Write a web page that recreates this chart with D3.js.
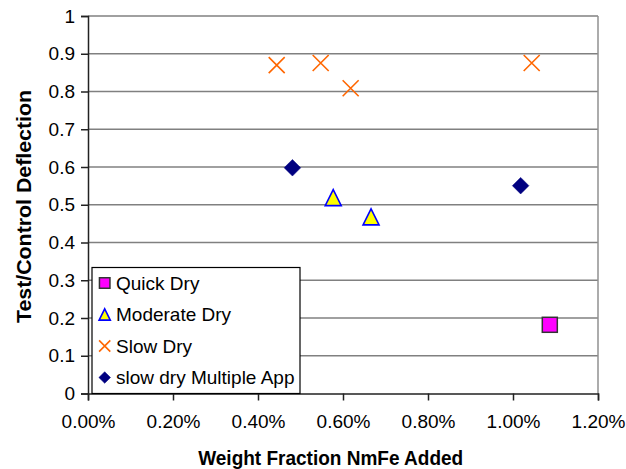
<!DOCTYPE html>
<html><head><meta charset="utf-8">
<script src="https://cdn.jsdelivr.net/npm/d3@7"></script>
<style>body{margin:0;background:#fff}svg{display:block}text{font-family:"Liberation Sans",Arial,sans-serif}</style>
</head><body><svg id="c" width="626" height="469"></svg>
<script>
const quickDryX = [0.010866];
const quickDryY = [0.182];
const moderateDryX = [0.00577, 0.00666];
const moderateDryY = [0.519, 0.468];
const slowDryX = [0.00444, 0.005475, 0.00618, 0.01044];
const slowDryY = [0.870, 0.8755, 0.8085, 0.8755];
const multiAppX = [0.00481, 0.01018];
const multiAppY = [0.598, 0.5505];
const xTicks = [0, 0.002, 0.004, 0.006, 0.008, 0.010, 0.012];
const yTicks = [0, 0.1, 0.2, 0.3, 0.4, 0.5, 0.6, 0.7, 0.8, 0.9, 1];
const seriesNames = ["Quick Dry", "Moderate Dry", "Slow Dry", "slow dry Multiple App"];

const svg = d3.select("#c");
const L = 88, R = 598, T = 16, B = 393.5;
const x = d3.scaleLinear().domain([0, 0.012]).range([L, R]);
const y = d3.scaleLinear().domain([0, 1]).range([B, T]);

// gridlines
svg.append("g").selectAll("line").data(yTicks.filter(d => d > 0)).join("line")
  .attr("x1", L).attr("x2", R).attr("y1", d => y(d)).attr("y2", d => y(d))
  .attr("stroke", "#808080").attr("stroke-width", 1.5);
// right border
svg.append("line").attr("x1", R).attr("x2", R).attr("y1", T).attr("y2", B)
  .attr("stroke", "#909090").attr("stroke-width", 1.5);

// axes
const yAxis = d3.axisLeft(y).tickValues(yTicks).tickSize(7).tickPadding(6).tickFormat(d3.format("~g"));
const gy = svg.append("g").attr("transform", `translate(${L},0)`).call(yAxis);
const xAxis = d3.axisBottom(x).tickValues(xTicks).tickSize(7).tickPadding(14).tickFormat(d3.format(".2%"));
const gx = svg.append("g").attr("transform", `translate(0,${B})`).call(xAxis);
[gx, gy].forEach(g => {
  g.select(".domain").attr("stroke", "#222").attr("stroke-width", 1.5);
  g.selectAll(".tick line").attr("stroke", "#222").attr("stroke-width", 1.5);
  g.selectAll("text").attr("font-size", 19).attr("fill", "#000").style("font-family", "Liberation Sans, Arial");
});

// axis titles
svg.append("text").attr("x", 330.7).attr("y", 465).attr("text-anchor", "middle")
  .attr("font-weight", "bold").attr("font-size", 19.5)
  .attr("textLength", 265).attr("lengthAdjust", "spacingAndGlyphs").text("Weight Fraction NmFe Added");
svg.append("text").attr("transform", "translate(31,206.5) rotate(-90)").attr("text-anchor", "middle")
  .attr("font-weight", "bold").attr("font-size", 19.5)
  .attr("textLength", 233).attr("lengthAdjust", "spacingAndGlyphs").text("Test/Control Deflection");

// marker drawers
function drawMarker(g, type, cx, cy, s) {
  if (type === 0) {
    g.append("rect").attr("x", cx - 7.5 * s).attr("y", cy - 7.5 * s).attr("width", 15 * s).attr("height", 15 * s)
      .attr("fill", "#FF00FF").attr("stroke", "#333").attr("stroke-width", 1.5);
  } else if (type === 1) {
    const h = 8 * s;
    g.append("path").attr("d", `M${cx},${cy - h}L${cx + h},${cy + h}L${cx - h},${cy + h}Z`)
      .attr("fill", "#FFFF00").attr("stroke", "#0000FF").attr("stroke-width", 1.6);
  } else if (type === 2) {
    const h = 8 * s;
    g.append("path").attr("d", `M${cx - h},${cy - h}L${cx + h},${cy + h}M${cx + h},${cy - h}L${cx - h},${cy + h}`)
      .attr("fill", "none").attr("stroke", "#FF6600").attr("stroke-width", 1.6);
  } else {
    const h = 8.3 * s;
    g.append("path").attr("d", `M${cx},${cy - h}L${cx + h},${cy}L${cx},${cy + h}L${cx - h},${cy}Z`)
      .attr("fill", "#000080").attr("stroke", "#000080").attr("stroke-width", 0.5);
  }
}

const series = [[quickDryX, quickDryY], [moderateDryX, moderateDryY], [slowDryX, slowDryY], [multiAppX, multiAppY]];
const gm = svg.append("g");
series.forEach((s, i) => {
  s[0].forEach((xv, j) => drawMarker(gm, i, x(xv), y(s[1][j]), 1));
});

// legend
const lg = svg.append("g");
lg.append("rect").attr("x", 92).attr("y", 267.5).attr("width", 208).attr("height", 126)
  .attr("fill", "#fff").attr("stroke", "#000").attr("stroke-width", 1.2);
seriesNames.forEach((n, i) => {
  const cy = 283 + i * 31.5;
  drawMarker(lg, i, 104.7, cy, 0.7);
  lg.append("text").attr("x", 116).attr("y", cy + 6.5).attr("font-size", 19).text(n);
});
</script></body></html>
